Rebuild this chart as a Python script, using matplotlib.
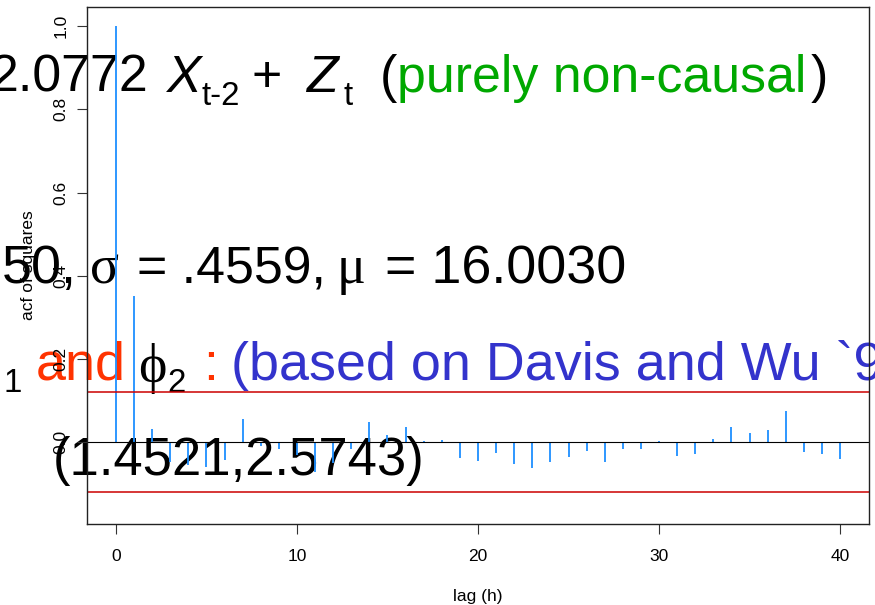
import matplotlib
matplotlib.use("Agg")
import matplotlib.pyplot as plt
from matplotlib.transforms import IdentityTransform

# sample acf of the squared series, lags 0..40
lags = list(range(41))
acf_sq = [1.0, 0.351, 0.033, -0.047, -0.055, -0.058, -0.043, 0.057, -0.009, -0.016,
          -0.030, -0.072, -0.050, -0.017, 0.049, 0.017, 0.036, 0.003, 0.005, -0.038,
          -0.044, -0.026, -0.052, -0.061, -0.048, -0.036, -0.021, -0.047, -0.016, -0.016,
          0.003, -0.032, -0.027, 0.007, 0.036, 0.023, 0.031, 0.075, -0.023, -0.029,
          -0.041]
conf_bound = 0.12
y_ticks = [0.0, 0.2, 0.4, 0.6, 0.8, 1.0]
x_ticks = [0, 10, 20, 30, 40]

W, H = 875, 605
SANS = ["Liberation Sans", "DejaVu Sans"]
SERIF = ["Liberation Serif", "DejaVu Serif"]
BIG = 37.4
BIG2 = 38.8
SUB = 23.8
GREEN = "#00a800"
ORANGE = "#ff3300"
BLUE = "#3333cc"

plt.rcParams["font.family"] = SANS

fig = plt.figure(figsize=(W / 100, H / 100), dpi=100)
ax = fig.add_axes([87 / W, (H - 524) / H, 782 / W, 517 / H])
ax.patch.set_visible(False)


def put(x, y, s, color="black", size=BIG, family=SANS, style="normal", ha="left"):
    # x, y in pixels from the top-left corner, y is the text baseline
    fig.text(x, H - y, s, transform=IdentityTransform(), color=color,
             fontsize=size, family=family, style=style, ha=ha, va="baseline",
             zorder=-5)


# slide text sitting behind the plot
put(148, 92, "2.0772", ha="right")
put(167, 92, "X", style="italic")
put(202, 105, "t-2", size=SUB)
put(251, 92, "+")
put(306, 92, "Z", style="italic")
put(343, 105, "t", size=SUB)
put(380, 92, "(")
put(397, 92, "purely non-causal", color=GREEN)
put(811, 92, ")")

put(2, 283, "50,", size=BIG2)
put(90, 283, "\u03c3", family=SERIF, size=BIG2)
put(137, 283, "= .4559,", size=BIG)
put(337, 283, "\u03bc", family=SERIF, size=BIG2)
put(385, 283, "= 16.0030", size=BIG2)

put(3, 392, "1", size=SUB)
put(36, 380, "and", color=ORANGE, size=BIG2)
put(138, 382, "\u03d5", family=SERIF, size=BIG2)
put(167, 392, "2", size=SUB)
put(203, 380, ":", color=ORANGE, size=BIG2)
put(231, 380, "(based on Davis and Wu `95)", color=BLUE, size=BIG2)

put(53, 475, "(1.4521,2.5743)", size=37.9)

# acf plot
ax.vlines(lags, 0, acf_sq, color="#1e8fff", lw=1.3)
ax.axhline(0, color="black", lw=0.8)
ax.axhline(conf_bound, color="#cc0000", lw=1.1)
ax.axhline(-conf_bound, color="#cc0000", lw=1.1)

ax.set_xlim(-1.6, 41.6)
ax.set_ylim(-0.196, 1.046)
ax.set_xticks(x_ticks)
ax.set_yticks(y_ticks)
ax.set_yticklabels([f"{v:.1f}" for v in y_ticks], rotation=90, va="center")
ax.tick_params(length=7.2, width=0.8, color="#333333", labelsize=12.5)
ax.tick_params(axis="x", pad=11)
ax.tick_params(axis="y", pad=6)
for sp in ax.spines.values():
    sp.set_linewidth(1.0)
    sp.set_color("#222222")

ax.set_xlabel("lag (h)", fontsize=12.5, labelpad=18)
ax.set_ylabel("acf of squares", fontsize=12.5, labelpad=13)

fig.savefig("out.png", dpi=100)
